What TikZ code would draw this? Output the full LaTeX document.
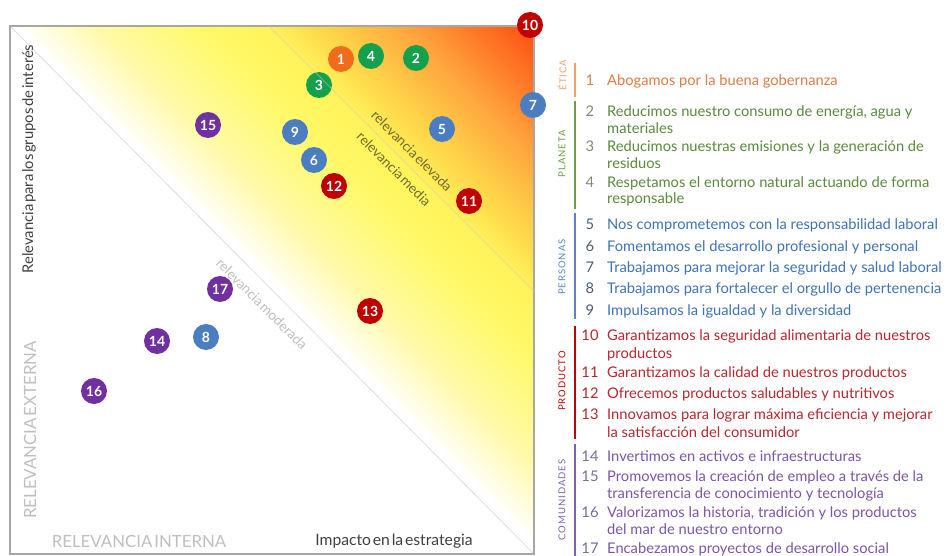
\documentclass[tikz,border=0pt]{standalone}
\usepackage{fontspec}
\setmainfont{Lato}
\newfontfamily\chartfont{Lato}[WordSpace=0.45]
\newfontfamily\capsfont{Lato}[LetterSpace=10]
\definecolor{gA}{HTML}{FFFAA8}
\definecolor{gB}{HTML}{FFF966}
\definecolor{gC}{HTML}{FFF35A}
\definecolor{gD}{HTML}{FFD448}
\definecolor{gE}{HTML}{FFA53E}
\definecolor{gF}{HTML}{FF4A10}
\definecolor{cOr}{HTML}{F26B1D}
\definecolor{cGr}{HTML}{14A04C}
\definecolor{cBl}{HTML}{4A7EC0}
\definecolor{cRd}{HTML}{C00000}
\definecolor{cPu}{HTML}{7030A0}
\definecolor{tOr}{HTML}{E07B46}
\definecolor{tGr}{HTML}{5A8A3C}
\definecolor{tBl}{HTML}{3F73B5}
\definecolor{tRd}{HTML}{B5282E}
\definecolor{tPu}{HTML}{7D55A8}
\definecolor{nGr}{HTML}{7D8C6E}
\definecolor{nBl}{HTML}{4D5D78}
\definecolor{nPu}{HTML}{7C6A9A}
\definecolor{bOr}{HTML}{F0A070}
\definecolor{bGr}{HTML}{6E9E4A}
\definecolor{bBl}{HTML}{5B84C8}
\definecolor{bRd}{HTML}{C00000}
\definecolor{bPu}{HTML}{8060B0}
\definecolor{boxgrey}{HTML}{A6A6A6}
\definecolor{diaggrey}{HTML}{DEDEDE}
\definecolor{axisdark}{HTML}{404040}
\definecolor{lightlab}{HTML}{BFBFBF}
\definecolor{olive}{HTML}{6E6A30}
\newcommand\legfont{\fontsize{14.7}{17}\selectfont}
\newcommand\grpfont{\capsfont\fontsize{9.5}{10}\selectfont}
\tikzset{
  dot/.style={circle, minimum size=26pt, inner sep=0pt, text=white,
    font=\fontsize{14}{14}\selectfont\bfseries},
  leg/.style={anchor=base west, inner sep=0pt, font=\legfont},
  legnum/.style={anchor=base, inner sep=0pt, font=\legfont},
  grp/.style={rotate=90, inner sep=0pt, font=\grpfont},
  bar/.style={line width=2.6pt},
  chartlab/.style={inner sep=0pt, font=\chartfont\fontsize{15.7}{16}\selectfont},
  biglab/.style={inner sep=0pt, text=lightlab, font=\chartfont\fontsize{16.8}{17}\selectfont},
  diaglab/.style={inner sep=0pt, rotate=-45, font=\chartfont\fontsize{13.7}{14}\selectfont}
}
\begin{document}
\begin{tikzpicture}[x=1pt,y=-1pt]
\useasboundingbox (0,0) rectangle (947,556);
\fill[white] (0,0) rectangle (947,556);
% gradient
\begin{scope}
\clip (10,26) rectangle (534,554);
\foreach \sa/\sb/\ca/\cb in {-10/70/white/gA,70/180/gA/gB,180/240/gB/gC,240/300/gC/gD,300/380/gD/gE,380/510/gE/gF}{
  \pgfmathtruncatemacro\n{(\sb-\sa)/2}
  \foreach \i in {1,...,\n}{
    \pgfmathsetmacro\a{\sa+(\i-1)*2}
    \pgfmathsetmacro\p{100*\i/\n}
    \fill[fill=\cb!\p!\ca] (\a,0) -- (\a+2.6,0) -- (\a+562.6,560) -- (\a+560,560) -- cycle;
  }
}
\fill[gF] (510,0) -- (1200,0) -- (1200,560) -- (1070,560) -- cycle;
\end{scope}
\coordinate (tl) at (10,26);
\coordinate (br) at (534,554);
\coordinate (d2a) at (269,26);
\coordinate (d2b) at (534,291);
\draw[diaggrey, line width=0.8pt] (tl) -- (br);
\draw[boxgrey, line width=1.4pt] (tl) rectangle (br);
% labels in chart
\node[chartlab, rotate=90, text=axisdark, font=\chartfont\fontsize{14.8}{15}\selectfont] (ylab) at (29,159) {Relevancia para los grupos de interés};
\node[biglab, rotate=90] (ext) at (30,430) {RELEVANCIA EXTERNA};
\node[biglab] (int) at (139,541) {RELEVANCIA INTERNA};
\node[chartlab, text=axisdark] (imp) at (394,541) {Impacto en la estrategia};
\node[diaglab, text=olive] (lel) at (412,151) {relevancia elevada};
\node[diaglab, text=olive] (lme) at (394,169) {relevancia media};
\node[diaglab, text=lightlab] (lmo) at (262,304) {relevancia moderada};
% dots
\node[dot, fill=cRd] (n10) at (530,25) {10};
\node[dot, fill=cOr] (n1) at (341,59) {1};
\node[dot, fill=cGr] (n4) at (371,56) {4};
\node[dot, fill=cGr] (n2) at (416,58) {2};
\node[dot, fill=cGr] (n3) at (319,85) {3};
\node[dot, fill=cBl] (n7) at (533,105) {7};
\node[dot, fill=cPu] (n15) at (208,125) {15};
\node[dot, fill=cBl] (n9) at (295,132) {9};
\node[dot, fill=cBl] (n5) at (442,129) {5};
\node[dot, fill=cBl] (n6) at (314,160) {6};
\node[dot, fill=cRd] (n12) at (334,186) {12};
\node[dot, fill=cRd] (n11) at (469,201) {11};
\node[dot, fill=cPu] (n17) at (220,289) {17};
\node[dot, fill=cRd] (n13) at (370,311) {13};
\node[dot, fill=cPu] (n14) at (157,341) {14};
\node[dot, fill=cBl] (n8) at (206,337) {8};
\node[dot, fill=cPu] (n16) at (94,391) {16};
\draw[white!80!black, opacity=0.5, line width=0.9pt] (d2a) -- (d2b);
% legend groups
\node[grp, text=bOr] (gEt) at (562,75) {ÉTICA};
\node[grp, text=bGr] (gPl) at (562,154) {PLANETA};
\node[grp, text=bBl] (gPe) at (562,267) {PERSONAS};
\node[grp, text=bRd] (gPr) at (562,381) {PRODUCTO};
\node[grp, text=bPu] (gCo) at (562,500) {COMUNIDADES};
\draw[bar, bOr] (575,63) -- (575,97);
\draw[bar, bGr] (575,101) -- (575,209);
\draw[bar, bBl] (575,213) -- (575,319);
\draw[bar, bRd] (575,326) -- (575,439);
\draw[bar, bPu] (575,444) -- (575,556);
% legend items
\node[legnum, text=tOr] (k1) at (590,86) {1};
\node[leg, text=tOr] (l1) at (607,86) {Abogamos por la buena gobernanza};
\node[legnum, text=nGr] (k2) at (590,117) {2};
\node[leg, text=tGr] (l2) at (607,117) {Reducimos nuestro consumo de energía, agua y};
\node[leg, text=tGr] (l2b) at (607,134) {materiales};
\node[legnum, text=nGr] (k3) at (590,152) {3};
\node[leg, text=tGr] (l3) at (607,152) {Reducimos nuestras emisiones y la generación de};
\node[leg, text=tGr] (l3b) at (607,169) {residuos};
\node[legnum, text=nGr] (k4) at (590,187) {4};
\node[leg, text=tGr] (l4) at (607,187) {Respetamos el entorno natural actuando de forma};
\node[leg, text=tGr] (l4b) at (607,204) {responsable};
\node[legnum, text=nBl] (k5) at (590,229) {5};
\node[leg, text=tBl] (l5) at (607,229) {Nos comprometemos con la responsabilidad laboral};
\node[legnum, text=nBl] (k6) at (590,251) {6};
\node[leg, text=tBl] (l6) at (607,251) {Fomentamos el desarrollo profesional y personal};
\node[legnum, text=nBl] (k7) at (590,272) {7};
\node[leg, text=tBl] (l7) at (607,272) {Trabajamos para mejorar la seguridad y salud laboral};
\node[legnum, text=nBl] (k8) at (590,293) {8};
\node[leg, text=tBl] (l8) at (607,293) {Trabajamos para fortalecer el orgullo de pertenencia};
\node[legnum, text=nBl] (k9) at (590,315) {9};
\node[leg, text=tBl] (l9) at (607,315) {Impulsamos la igualdad y la diversidad};
\node[legnum, text=tRd] (k10) at (590,340) {10};
\node[leg, text=tRd] (l10) at (607,340) {Garantizamos la seguridad alimentaria de nuestros};
\node[leg, text=tRd] (l10b) at (607,358) {productos};
\node[legnum, text=tRd] (k11) at (590,377) {11};
\node[leg, text=tRd] (l11) at (607,377) {Garantizamos la calidad de nuestros productos};
\node[legnum, text=tRd] (k12) at (590,398) {12};
\node[leg, text=tRd] (l12) at (607,398) {Ofrecemos productos saludables y nutritivos};
\node[legnum, text=tRd] (k13) at (590,419) {13};
\node[leg, text=tRd] (l13) at (607,419) {Innovamos para lograr máxima eficiencia y mejorar};
\node[leg, text=tRd] (l13b) at (607,437) {la satisfacción del consumidor};
\node[legnum, text=nPu] (k14) at (590,461) {14};
\node[leg, text=tPu] (l14) at (607,461) {Invertimos en activos e infraestructuras};
\node[legnum, text=nPu] (k15) at (590,481) {15};
\node[leg, text=tPu] (l15) at (607,481) {Promovemos la creación de empleo a través de la};
\node[leg, text=tPu] (l15b) at (607,498) {transferencia de conocimiento y tecnología};
\node[legnum, text=nPu] (k16) at (590,517) {16};
\node[leg, text=tPu] (l16) at (607,517) {Valorizamos la historia, tradición y los productos};
\node[leg, text=tPu] (l16b) at (607,534) {del mar de nuestro entorno};
\node[legnum, text=nPu] (k17) at (590,553) {17};
\node[leg, text=tPu] (l17) at (607,553) {Encabezamos proyectos de desarrollo social};
\end{tikzpicture}
\end{document}
